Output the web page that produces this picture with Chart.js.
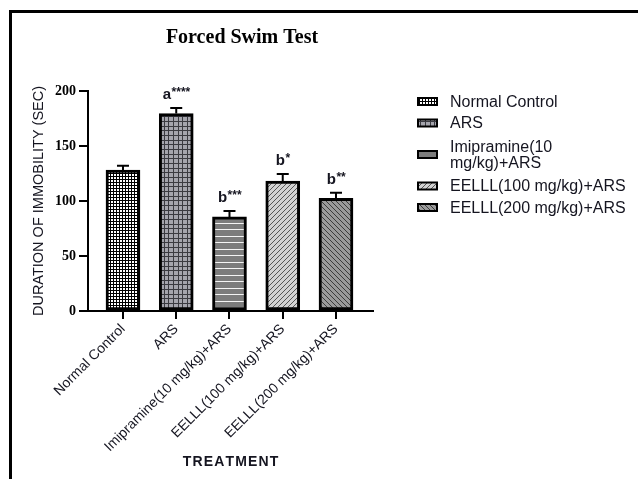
<!DOCTYPE html>
<html>
<head>
<meta charset="utf-8">
<script src="https://cdn.jsdelivr.net/npm/chart.js@4"></script>
<style>
  html, body { margin: 0; padding: 0; background: #fff; }
  #frame { position: absolute; left: 9px; top: 10px; width: 700px; height: 520px;
           border-left: 3px solid #000; border-top: 3px solid #000; }
  #wrap { position: absolute; left: 0; top: 0; width: 638px; height: 479px; }
</style>
</head>
<body>
<div id="frame"></div>
<div id="wrap"><canvas id="fst" width="638" height="479"></canvas></div>
<script>
// 데이터
const categories = ["Normal Control", "ARS", "Imipramine(10 mg/kg)+ARS", "EELLL(100 mg/kg)+ARS", "EELLL(200 mg/kg)+ARS"];
const legendLabels = [["Normal Control"], ["ARS"], ["Imipramine(10", "mg/kg)+ARS"], ["EELLL(100 mg/kg)+ARS"], ["EELLL(200 mg/kg)+ARS"]];
const means = [128, 179.5, 85.5, 118, 102.5];
const sem = [4, 5, 5.5, 6.5, 5];
const sigLetter = ["", "a", "b", "b", "b"];
const sigStars = ["", "****", "***", "*", "**"];
const yTicks = [0, 50, 100, 150, 200];

// 패턴 만들기
function makePattern(w, h, draw) {
  const c = document.createElement("canvas");
  c.width = w; c.height = h;
  const g = c.getContext("2d");
  draw(g, w, h);
  return c.getContext("2d").createPattern(c, "repeat");
}

const patterns = [
  // 체크무늬
  makePattern(3, 3, (g) => {
    g.fillStyle = "#000"; g.fillRect(0, 0, 3, 3);
    g.fillStyle = "#fff"; g.fillRect(0, 0, 2, 2);
  }),
  // 격자
  makePattern(14, 14, (g) => {
    g.fillStyle = "#a4a4ac"; g.fillRect(0, 0, 14, 14);
    g.fillStyle = "#3a3a40";
    [0, 5, 10].forEach(x => g.fillRect(x, 0, 1, 14));
    [0, 4, 9].forEach(y => g.fillRect(0, y, 14, 1));
  }),
  // 가로줄
  makePattern(4, 13, (g) => {
    g.fillStyle = "#7c7c7c"; g.fillRect(0, 0, 4, 13);
    g.fillStyle = "#f4f4f4";
    g.fillRect(0, 2, 4, 1);
    g.fillRect(0, 8, 4, 1);
  }),
  // 사선 /
  makePattern(5, 5, (g) => {
    g.fillStyle = "#d2d2d2"; g.fillRect(0, 0, 5, 5);
    g.fillStyle = "#555";
    for (let i = 0; i < 5; i++) g.fillRect(4 - i, i, 1, 1);
  }),
  // 사선 \
  makePattern(5, 5, (g) => {
    g.fillStyle = "#9a9a9a"; g.fillRect(0, 0, 5, 5);
    g.fillStyle = "#3c3c3c";
    for (let i = 0; i < 5; i++) g.fillRect(i, i, 1, 1);
  })
];

const textColor = "#151520";

// 에러바 + 유의성 표시
const errorBarPlugin = {
  id: "errorBars",
  afterDatasetsDraw(chart) {
    const { ctx, scales: { x, y } } = chart;
    ctx.save();
    ctx.strokeStyle = "#000";
    ctx.lineWidth = 2;
    means.forEach((m, i) => {
      const cx = x.getPixelForValue(i);
      const top = y.getPixelForValue(m);
      const cap = y.getPixelForValue(m + sem[i]);
      ctx.beginPath();
      ctx.moveTo(cx, top);
      ctx.lineTo(cx, cap);
      ctx.moveTo(cx - 6, cap);
      ctx.lineTo(cx + 6, cap);
      ctx.stroke();

      if (sigLetter[i]) {
        ctx.fillStyle = textColor;
        ctx.font = "bold 15px 'Liberation Sans', Arial";
        const wL = ctx.measureText(sigLetter[i]).width;
        ctx.font = "bold 12px 'Liberation Sans', Arial";
        const wS = ctx.measureText(sigStars[i]).width;
        const start = cx - (wL + wS) / 2;
        const base = cap - 9;
        ctx.textBaseline = "alphabetic";
        ctx.textAlign = "left";
        ctx.font = "bold 15px 'Liberation Sans', Arial";
        ctx.fillText(sigLetter[i], start, base);
        ctx.font = "bold 12px 'Liberation Sans', Arial";
        ctx.fillText(sigStars[i], start + wL + 0.5, base - 3);
      }
    });
    ctx.restore();
  }
};

// 제목 + 범례
const titleLegendPlugin = {
  id: "titleLegend",
  afterDraw(chart) {
    const { ctx } = chart;
    ctx.save();
    ctx.fillStyle = "#000";
    ctx.font = "bold 20px 'Liberation Serif', 'Times New Roman', serif";
    ctx.textAlign = "center";
    ctx.textBaseline = "middle";
    ctx.fillText("Forced Swim Test", 242, 38);

    const rows = [101.5, 123, 154.5, 186, 207.5];
    ctx.textAlign = "left";
    ctx.font = "16px 'Liberation Sans', Arial";
    legendLabels.forEach((lines, i) => {
      const yc = rows[i];
      ctx.fillStyle = "#000";
      ctx.fillRect(417, yc - 4.5, 21, 9);
      ctx.fillStyle = patterns[i];
      ctx.fillRect(419, yc - 2.5, 17, 5);
      ctx.fillStyle = textColor;
      const lh = 15.5;
      lines.forEach((t, k) => {
        ctx.fillText(t, 450, yc + 1 + (k - (lines.length - 1) / 2) * lh);
      });
    });
    ctx.restore();
  }
};

new Chart(document.getElementById("fst"), {
  type: "bar",
  data: {
    datasets: [{
      data: means.map((m, i) => ({ x: i, y: m })),
      backgroundColor: patterns,
      borderColor: "#000",
      borderWidth: 3,
      borderSkipped: false,
      barThickness: 34
    }]
  },
  options: {
    responsive: false,
    animation: false,
    layout: { padding: { left: 0, right: 265, top: 91, bottom: 0 } },
    plugins: { legend: { display: false }, tooltip: { enabled: false } },
    scales: {
      x: {
        type: "linear",
        offset: false,
        min: -0.657,
        max: 4.695,
        afterBuildTicks: (s) => { s.ticks = categories.map((_, i) => ({ value: i })); },
        afterFit: (s) => { s.height = 168; },
        grid: { display: true, offset: false, drawOnChartArea: false, drawTicks: true, tickLength: 8, color: "#000", lineWidth: 2 },
        border: { display: true, color: "#000", width: 2 },
        ticks: {
          autoSkip: false,
          minRotation: 45,
          maxRotation: 45,
          padding: 2,
          color: textColor,
          font: { family: "'Liberation Sans', Arial", size: 14 },
          callback: (v) => categories[v]
        },
        title: {
          display: true,
          text: "T\u200AR\u200AE\u200AA\u200AT\u200AM\u200AE\u200AN\u200AT",
          color: textColor,
          font: { family: "'Liberation Sans', Arial", size: 14, weight: "bold" },
          padding: { bottom: 8 }
        }
      },
      y: {
        min: 0,
        max: 200,
        afterBuildTicks: (s) => { s.ticks = yTicks.map(v => ({ value: v })); },
        afterFit: (s) => { s.width = 88; },
        grid: { display: true, drawOnChartArea: false, drawTicks: true, tickLength: 9, color: "#000", lineWidth: 2 },
        border: { display: true, color: "#000", width: 2 },
        ticks: {
          padding: 3,
          color: "#000",
          font: { family: "'Liberation Serif', 'Times New Roman', serif", size: 14, weight: "bold" }
        },
        title: {
          display: true,
          text: "DURATION OF IMMOBILITY (SEC)",
          color: textColor,
          font: { family: "'Liberation Sans', Arial", size: 14.5 },
          padding: { top: 30 }
        }
      }
    }
  },
  plugins: [errorBarPlugin, titleLegendPlugin]
});
</script>
</body>
</html>
